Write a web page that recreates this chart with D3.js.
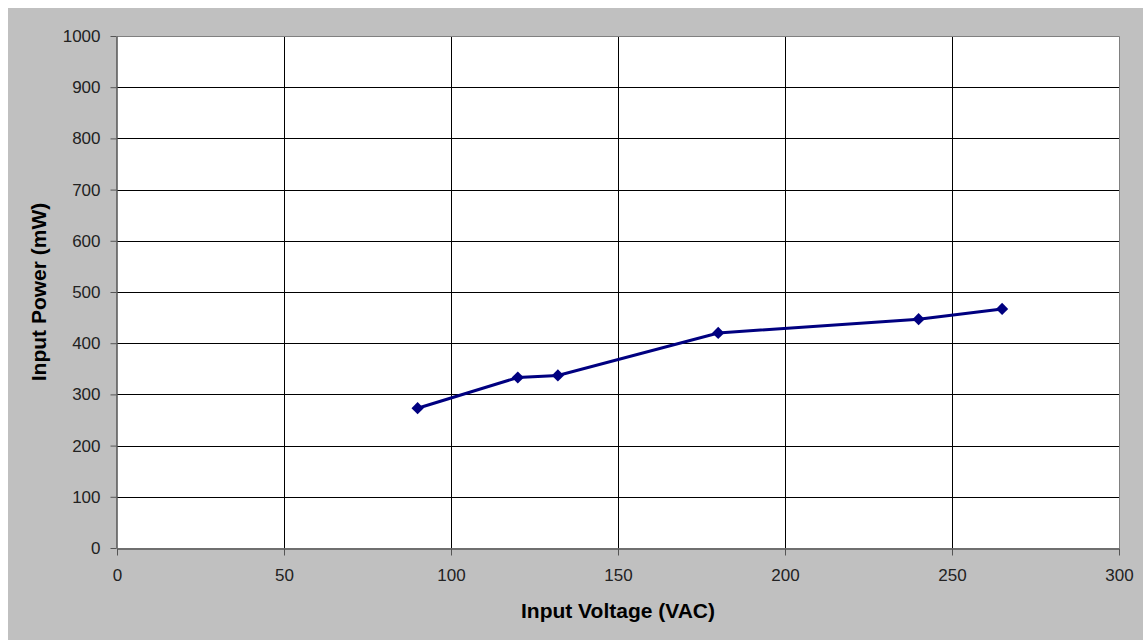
<!DOCTYPE html>
<html>
<head>
<meta charset="utf-8">
<script src="https://cdn.jsdelivr.net/npm/d3@7"></script>
<style>
  body { margin: 0; background: #fff; }
  text { font-family: "Liberation Sans", Arial, sans-serif; }
</style>
</head>
<body>
<div id="chart"></div>
<script>
// data
const voltage = [90, 120, 132, 180, 240, 265];
const power = [273, 333, 337, 420, 447, 467];
const xTicks = [0, 50, 100, 150, 200, 250, 300];
const yTicks = [0, 100, 200, 300, 400, 500, 600, 700, 800, 900, 1000];

const width = 1143, height = 640;
const margin = { top: 36, bottom: 92, left: 117, right: 24 };

const svg = d3.select("#chart")
  .append("svg")
  .attr("width", width)
  .attr("height", height);

// gray chart area
svg.append("rect")
  .attr("x", 8).attr("y", 8)
  .attr("width", width - 8).attr("height", height - 8)
  .attr("fill", "#c0c0c0");

const xScale = d3.scaleLinear()
  .domain([0, 300])
  .range([margin.left, width - margin.right]);

const yScale = d3.scaleLinear()
  .domain([0, 1000])
  .range([height - margin.bottom, margin.top]);

// plot area
svg.append("rect")
  .attr("x", xScale(0)).attr("y", yScale(1000))
  .attr("width", xScale(300) - xScale(0))
  .attr("height", yScale(0) - yScale(1000))
  .attr("fill", "#fff");

// grid
svg.selectAll("line.hgrid")
  .data(yTicks.filter(d => d > 0 && d < 1000))
  .join("line")
  .attr("class", "hgrid")
  .attr("x1", xScale(0)).attr("x2", xScale(300))
  .attr("y1", d => Math.round(yScale(d)) + 0.5)
  .attr("y2", d => Math.round(yScale(d)) + 0.5)
  .attr("stroke", "#000");

svg.selectAll("line.vgrid")
  .data(xTicks.filter(d => d > 0 && d < 300))
  .join("line")
  .attr("class", "vgrid")
  .attr("y1", yScale(0)).attr("y2", yScale(1000))
  .attr("x1", d => Math.round(xScale(d)) + 0.5)
  .attr("x2", d => Math.round(xScale(d)) + 0.5)
  .attr("stroke", "#000");

// top / right border of plot
svg.append("path")
  .attr("d", `M${xScale(0)},${Math.round(yScale(1000)) + 0.5}H${Math.round(xScale(300)) + 0.5}V${yScale(0)}`)
  .attr("fill", "none")
  .attr("stroke", "#808080");

// axes
const fmt = d3.format("d");
const xAxis = d3.axisBottom(xScale).tickValues(xTicks).tickFormat(fmt).tickSize(7).tickSizeOuter(0);
const yAxis = d3.axisLeft(yScale).tickValues(yTicks).tickFormat(fmt).tickSize(6).tickSizeOuter(0);

const xAxisGroup = svg.append("g")
  .attr("transform", `translate(0, ${Math.round(yScale(0)) + 0.5})`)
  .call(xAxis);

const yAxisGroup = svg.append("g")
  .attr("transform", `translate(${Math.round(xScale(0)) - 0.5}, 0)`)
  .call(yAxis);

[xAxisGroup, yAxisGroup].forEach(g => {
  g.select(".domain").attr("stroke", "#555").attr("stroke-width", 1.5);
  g.selectAll(".tick line").attr("stroke", "#555");
  g.selectAll(".tick text")
    .attr("fill", "#222")
    .attr("font-size", 17)
    .attr("font-family", "Liberation Sans, Arial, sans-serif");
});
xAxisGroup.selectAll(".tick text").attr("y", 20);
yAxisGroup.selectAll(".tick text").attr("x", -16);

// axis titles
svg.append("text")
  .attr("x", (xScale(0) + xScale(300)) / 2)
  .attr("y", 618)
  .attr("text-anchor", "middle")
  .attr("font-size", 21)
  .attr("font-weight", "bold")
  .attr("fill", "#000")
  .text("Input Voltage (VAC)");

svg.append("text")
  .attr("transform", `translate(46, ${(yScale(0) + yScale(1000)) / 2}) rotate(-90)`)
  .attr("text-anchor", "middle")
  .attr("font-size", 21)
  .attr("font-weight", "bold")
  .attr("fill", "#000")
  .text("Input Power (mW)");

// series
const points = voltage.map((v, i) => ({ v, p: power[i] }));

const lineGen = d3.line()
  .x(d => xScale(d.v))
  .y(d => yScale(d.p));

svg.append("path")
  .datum(points)
  .attr("d", lineGen)
  .attr("fill", "none")
  .attr("stroke", "#000080")
  .attr("stroke-width", 3);

svg.selectAll("path.marker")
  .data(points)
  .join("path")
  .attr("class", "marker")
  .attr("d", d3.symbol(d3.symbolDiamond2, 95))
  .attr("transform", d => `translate(${xScale(d.v)}, ${yScale(d.p)})`)
  .attr("fill", "#000080");
</script>
</body>
</html>
